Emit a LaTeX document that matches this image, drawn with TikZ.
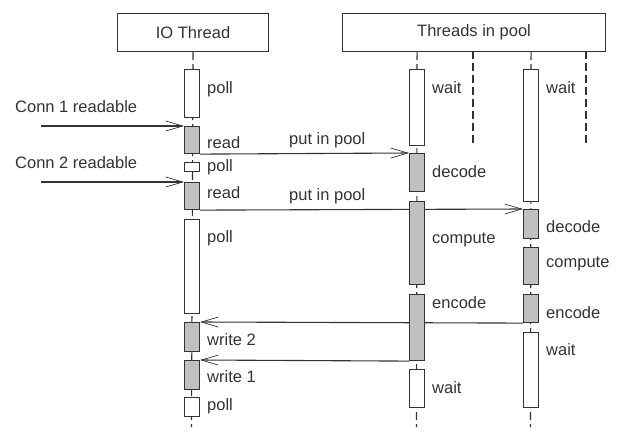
\documentclass[tikz,border=0pt]{standalone}
\usepackage{fontspec}
\setmainfont{Liberation Sans}
\usetikzlibrary{arrows.meta,backgrounds}
\definecolor{ln}{HTML}{333333}
\definecolor{act}{HTML}{C0C0C0}
\begin{document}
\begin{tikzpicture}[x=1pt,y=-1pt,
  every node/.style={font=\fontsize{16.5}{17}\selectfont, text=ln, inner sep=0pt},
  head/.style={draw=ln, line width=1.1pt, fill=white, anchor=north west},
  actw/.style={draw=ln, line width=1.1pt, fill=white, anchor=north west, minimum width=15pt},
  actg/.style={draw=ln, line width=1.1pt, fill=act, anchor=north west, minimum width=15pt},
  lbl/.style={anchor=west},
  life/.style={draw=ln, line width=1.1pt, dash pattern=on 8pt off 4pt},
  msg/.style={draw=ln, line width=1.1pt, -{Straight Barb[length=17pt,width=10pt,line width=0.7pt]}}
]
\useasboundingbox (0,0) rectangle (621,437);
% headers
\node[head, minimum width=151pt, minimum height=38pt] (io) at (117,13) {};
\node at (io.center) {IO Thread};
\node[head, minimum width=263pt, minimum height=38pt] (pool) at (342,13) {};
\node at (pool.center) {Threads in pool};
% IO thread activations
\node[actw, minimum height=48pt] (poll1) at (184,69) {};
\node[actg, minimum height=27pt] (read1) at (184,126) {};
\node[actw, minimum height=9pt] (poll2) at (184,162) {};
\node[actg, minimum height=27pt] (read2) at (184,182) {};
\node[actw, minimum height=94pt] (poll3) at (184,219) {};
\node[actg, minimum height=29pt] (write2) at (184,322) {};
\node[actg, minimum height=29pt] (write1) at (184,360) {};
\node[actw, minimum height=19pt] (poll4) at (184,397) {};
% pool thread 1
\node[actw, minimum height=76pt] (wait1) at (409,69) {};
\node[actg, minimum height=38pt] (dec1) at (409,153) {};
\node[actg, minimum height=83pt] (comp1) at (409,201) {};
\node[actg, minimum height=66pt] (enc1) at (409,294) {};
\node[actw, minimum height=38pt] (wait1b) at (409,369) {};
% pool thread 2
\node[actw, minimum height=132pt] (wait2) at (523,69) {};
\node[actg, minimum height=29pt] (dec2) at (523,209) {};
\node[actg, minimum height=37pt] (comp2) at (523,247) {};
\node[actg, minimum height=28pt] (enc2) at (523,294) {};
\node[actw, minimum height=75pt] (wait2b) at (523,332) {};
% lifeline ends and free ends
\coordinate (ioend) at (191.5,427);
\coordinate (t1end) at (416.5,427);
\coordinate (t2end) at (530.5,427);
\coordinate (c1) at (41,126);
\coordinate (c2) at (41,182);
\coordinate (x1top) at (473,51);
\coordinate (x1end) at (473,143);
\coordinate (x2top) at (586,51);
\coordinate (x2end) at (586,143);
\begin{scope}[on background layer]
  \fill[white] (0,0) rectangle (621,437);
  \draw[life] (io.south) -- (ioend);
  \draw[life] (io.south -| wait1.north) -- (t1end);
  \draw[life] (io.south -| wait2.north) -- (t2end);
  \draw[life] (x1top) -- (x1end);
  \draw[life] (x2top) -- (x2end);
  \draw[msg] (c1) -- (read1.north west);
  \draw[msg] (c2) -- (read2.north west);
  \draw[msg] (read1.south east) -- (dec1.north west);
  \draw[msg] (read2.south east) -- (dec2.north west);
  \draw[msg] (enc2.south west) -- (write2.north east);
  \draw[msg] (enc1.south west) -- (write1.north east);
\end{scope}
% labels
\node[lbl] (lc1) at (15,107) {Conn 1 readable};
\node[lbl] (lc2) at (15,163) {Conn 2 readable};
\node[lbl] (lp1) at (289,140) {put in pool};
\node[lbl] (lp2) at (289,196) {put in pool};
\node[lbl] at (207,89) {poll};
\node[lbl] at (207,143) {read};
\node[lbl] at (207,167) {poll};
\node[lbl] at (207,193) {read};
\node[lbl] at (207,238) {poll};
\node[lbl] at (207,340) {write 2};
\node[lbl] at (207,377) {write 1};
\node[lbl] at (207,406) {poll};
\node[lbl] at (432,88) {wait};
\node[lbl] at (432,172) {decode};
\node[lbl] at (432,240) {compute};
\node[lbl] at (432,303) {encode};
\node[lbl] at (432,388) {wait};
\node[lbl] at (546,88) {wait};
\node[lbl] at (546,227) {decode};
\node[lbl] at (546,264) {compute};
\node[lbl] at (546,313) {encode};
\node[lbl] at (546,350) {wait};
\end{tikzpicture}
\end{document}
